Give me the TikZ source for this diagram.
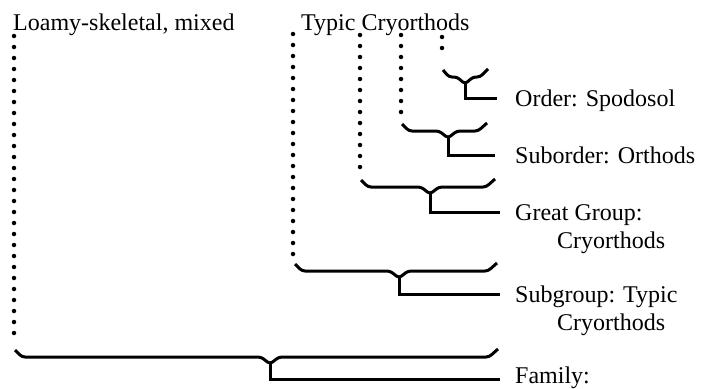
\documentclass[tikz,border=0pt]{standalone}
\usepackage{fontspec}
\setmainfont{Liberation Serif}
\usetikzlibrary{calc}

\begin{document}
\begin{tikzpicture}[
            x=1pt,
            y=-1pt,
            dots/.style={line width=4.5pt, line cap=round, dash pattern=on 0pt off 11pt},
            bracket/.style={line width=3pt, rounded corners=3pt},
            stem/.style={line width=3pt},
            lbl/.style={font=\fontsize{24}{28}\selectfont, inner sep=0pt, anchor=base west}
        ]
        \useasboundingbox (0,0) rectangle (703,388);

        % soil names on top
        \node[lbl] (famname) at (13,30) {Loamy-skeletal, mixed};
        \node[lbl] (subname) at (301,30) {Typic Cryorthods};

        % family
        \coordinate (famtop) at (14,36);
        \coordinate (fambot) at (14,344);
        \coordinate (famL) at (15,350);
        \coordinate (famR) at (498,349);
        \coordinate (famT) at (270,364);
        \coordinate (famE) at (500,379);
        % subgroup
        \coordinate (sgtop) at (293,34);
        \coordinate (sgbot) at (293,258);
        \coordinate (sgL) at (295,264);
        \coordinate (sgR) at (497,263);
        \coordinate (sgT) at (399,278);
        \coordinate (sgE) at (500,294);
        % great group
        \coordinate (ggtop) at (360,35);
        \coordinate (ggbot) at (360,170);
        \coordinate (ggL) at (361,180);
        \coordinate (ggR) at (495,179);
        \coordinate (ggT) at (430,194);
        \coordinate (ggE) at (500,212);
        % suborder
        \coordinate (sotop) at (401,35);
        \coordinate (sobot) at (401,115);
        \coordinate (soL) at (402,124);
        \coordinate (soR) at (487,123);
        \coordinate (soT) at (448,138);
        \coordinate (soE) at (495,155);
        % order
        \coordinate (ortop) at (442,37);
        \coordinate (orbot) at (442,59);
        \coordinate (orL) at (443,70);
        \coordinate (orR) at (488,69);
        \coordinate (orT) at (465,84);
        \coordinate (orE) at (497,98);

        \draw[dots] (famtop) -- (fambot);
        \draw[dots] (sgtop) -- (sgbot);
        \draw[dots] (ggtop) -- (ggbot);
        \draw[dots] (sotop) -- (sobot);
        \draw[dots] (ortop) -- (orbot);

        % brackets with the stem to each rank
        \draw[bracket] (famL) -- ++(7,7) -- ($(famT)+(-9,-7)$) -- (famT) -- ($(famT)+(9,-7)$) -- ($(famR)+(-9,8)$) -- (famR);
        \draw[bracket] (sgL) -- ++(7,7) -- ($(sgT)+(-9,-7)$) -- (sgT) -- ($(sgT)+(9,-7)$) -- ($(sgR)+(-9,8)$) -- (sgR);
        \draw[bracket] (ggL) -- ++(7,7) -- ($(ggT)+(-9,-7)$) -- (ggT) -- ($(ggT)+(9,-7)$) -- ($(ggR)+(-9,8)$) -- (ggR);
        \draw[bracket] (soL) -- ++(7,7) -- ($(soT)+(-9,-7)$) -- (soT) -- ($(soT)+(9,-7)$) -- ($(soR)+(-9,8)$) -- (soR);
        \draw[bracket] (orL) -- ++(6,7) -- ($(orT)+(-8,-7)$) -- (orT) -- ($(orT)+(8,-7)$) -- ($(orR)+(-8,8)$) -- (orR);

        \draw[stem] (famT) |- (famE);
        \draw[stem] (sgT) |- (sgE);
        \draw[stem] (ggT) |- (ggE);
        \draw[stem] (soT) |- (soE);
        \draw[stem] (orT) |- (orE);

        \node[lbl] (order) at (515,106) {Order: Spodosol};
        \node[lbl] (suborder) at (515,163) {Suborder: Orthods};
        \node[lbl] (great) at (515,220) {Great Group:};
        \node[lbl] (great2) at (557,248) {Cryorthods};
        \node[lbl] (subgroup) at (515,302) {Subgroup: Typic};
        \node[lbl] (subgroup2) at (557,330) {Cryorthods};
        \node[lbl] (family) at (515,383) {Family:};

    \end{tikzpicture}
\end{document}
